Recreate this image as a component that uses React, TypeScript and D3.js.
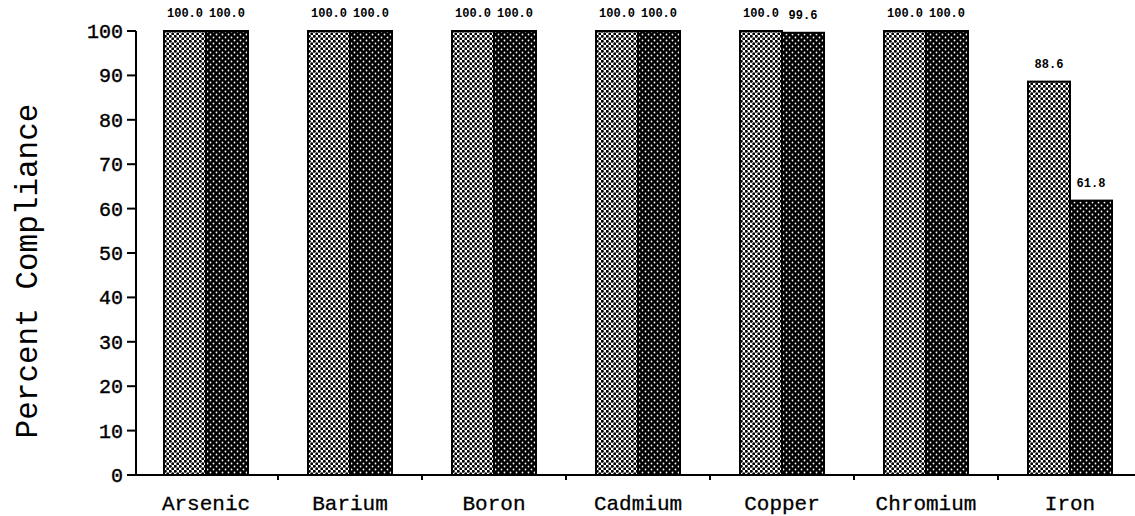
import React from "react";
import * as d3 from "d3";

const categories = ["Arsenic", "Barium", "Boron", "Cadmium", "Copper", "Chromium", "Iron"];
const seriesKeys = ["a", "b"];
const seriesA = [100.0, 100.0, 100.0, 100.0, 100.0, 100.0, 88.6];
const seriesB = [100.0, 100.0, 100.0, 100.0, 99.6, 100.0, 61.8];
const yTicks = [0, 10, 20, 30, 40, 50, 60, 70, 80, 90, 100];

const W = 1135;
const H = 516;
const mono = "'Liberation Mono', 'Courier New', 'DejaVu Sans Mono', monospace";

export default function App() {
  const y = d3.scaleLinear().domain([0, 100]).range([475, 31]);
  const x0 = d3.scaleBand<string>().domain(categories).range([134, 1142]).paddingInner(0).paddingOuter(0);
  const groupW = 84;
  const x1 = d3.scaleBand<string>().domain(seriesKeys).range([0, groupW]);
  const boundaries = categories.slice(1).map((c) => x0(c) as number).concat([x0.range()[1] as number]);

  return (
    <svg width={W} height={H} style={{ position: "absolute", left: 0, top: 0, background: "#fff" }}>
      <defs>
        <pattern id="lightPat" width={5} height={5} patternUnits="userSpaceOnUse">
          <rect width={5} height={5} fill="#fff" />
          <circle cx={1.25} cy={1.25} r={1.5} fill="#000" />
          <circle cx={3.75} cy={3.75} r={1.5} fill="#000" />
        </pattern>
        <pattern id="darkPat" width={6} height={6} patternUnits="userSpaceOnUse">
          <rect width={6} height={6} fill="#000" />
          <circle cx={1.5} cy={1.5} r={0.9} fill="#fff" />
          <circle cx={4.5} cy={4.5} r={0.9} fill="#fff" />
        </pattern>
      </defs>
      <rect width={W} height={H} fill="#fff" />

      {categories.map((c, i) => {
        const gx = (x0(c) as number) + (x0.bandwidth() - groupW) / 2;
        const vals = [seriesA[i], seriesB[i]];
        return (
          <g key={c} transform={`translate(${gx},0)`}>
            {seriesKeys.map((k, j) => {
              const bx = x1(k) as number;
              const v = vals[j];
              return (
                <g key={k}>
                  <rect
                    x={bx}
                    y={y(v)}
                    width={x1.bandwidth()}
                    height={y(0) - y(v)}
                    fill={j === 0 ? "url(#lightPat)" : "url(#darkPat)"}
                    stroke="#000"
                    strokeWidth={2}
                  />
                  <text
                    x={bx + x1.bandwidth() / 2}
                    y={y(v) - 14}
                    textAnchor="middle"
                    fontFamily={mono}
                    fontWeight="bold"
                    fontSize={12}
                    fill="#000"
                  >
                    {v.toFixed(1)}
                  </text>
                </g>
              );
            })}
          </g>
        );
      })}

      {/* y axis */}
      <line x1={136} x2={136} y1={y(100)} y2={y(0)} stroke="#000" strokeWidth={2} />
      {yTicks.map((t) => (
        <g key={t}>
          <line x1={127} x2={136} y1={y(t)} y2={y(t)} stroke="#000" strokeWidth={2} />
          <text x={123} y={y(t)} dy="0.35em" textAnchor="end" fontFamily={mono} fontSize={20} fill="#000" stroke="#000" strokeWidth={0.4}>
            {t}
          </text>
        </g>
      ))}

      {/* x axis */}
      <line x1={136} x2={W} y1={y(0)} y2={y(0)} stroke="#000" strokeWidth={2} />
      {boundaries.map((b, i) => (
        <line key={i} x1={b} x2={b} y1={y(0)} y2={y(0) + 5} stroke="#000" strokeWidth={2} />
      ))}
      {categories.map((c) => (
        <text
          key={c}
          x={(x0(c) as number) + x0.bandwidth() / 2}
          y={510}
          textAnchor="middle"
          fontFamily={mono}
          fontSize={21}
          fill="#000"
          stroke="#000"
          strokeWidth={0.3}
        >
          {c}
        </text>
      ))}

      <text
        transform={`translate(37,271) rotate(-90)`}
        textAnchor="middle"
        fontFamily={mono}
        fontSize={31}
        fill="#000"
      >
        Percent Compliance
      </text>
    </svg>
  );
}
